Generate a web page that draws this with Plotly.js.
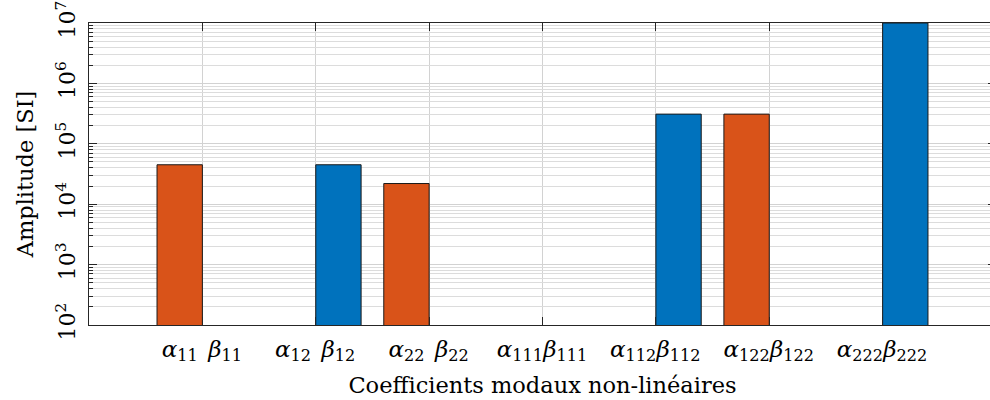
<!DOCTYPE html>
<html>
<head>
<meta charset="utf-8">
<script src="https://cdn.plot.ly/plotly-3.0.1.min.js"></script>
<style>
html,body{margin:0;padding:0;overflow:hidden;background:#fff;}
#chart{width:1000px;height:400px;}
</style>
</head>
<body>
<div id="chart"></div>
<script>
// Data
const groups = [1, 2, 3, 4, 5, 6, 7];
const indices = ['11', '12', '22', '111', '112', '122', '222'];
const alphaValues = [4.5e4, 0, 2.2e4, 0, 0, 3.1e5, 0];
const betaValues  = [0, 4.5e4, 0, 0, 3.1e5, 0, 1e7];
const yExponents = [2, 3, 4, 5, 6, 7];

const orange = '#D95319';
const blue = '#0072BD';
const axisColor = '#262626';
const serif = 'DejaVu Serif, serif';

// Tick labels: alpha left of each group, beta right
const tickVals = [];
const tickText = [];
groups.forEach((g, i) => {
  tickVals.push(g - 0.2); tickText.push('<i>α</i><sub>' + indices[i] + '</sub>');
  tickVals.push(g + 0.2); tickText.push('<i>β</i><sub>' + indices[i] + '</sub>');
});
const yTickVals = yExponents.map(e => Math.pow(10, e));
const yTickText = yExponents.map(e => '10<sup>' + e + '</sup>');

const traces = [
  {type: 'bar', x: groups, y: alphaValues, name: 'alpha',
   marker: {color: orange, line: {color: '#1a1a1a', width: 1}}},
  {type: 'bar', x: groups, y: betaValues, name: 'beta',
   marker: {color: blue, line: {color: '#1a1a1a', width: 1}}}
];

const layout = {
  width: 1000, height: 400,
  margin: {l: 89, r: 4, t: 22.5, b: 75},
  paper_bgcolor: '#fff', plot_bgcolor: '#fff',
  showlegend: false,
  barmode: 'group', bargap: 0.2, bargroupgap: 0,
  font: {family: serif, color: '#000', size: 22},
  xaxis: {
    range: [0, 8], autorange: false,
    tickmode: 'array', tickvals: tickVals, ticktext: tickText,
    tickangle: 0,
    ticks: '', showgrid: false, zeroline: false,
    showline: true, linecolor: axisColor, linewidth: 1, mirror: 'allticks',
    tickfont: {family: serif, size: 23, color: '#000'},
    ticklabelstandoff: 3,
    minor: {tickmode: 'array', tickvals: groups, ticks: 'inside', ticklen: 8,
            tickcolor: axisColor, showgrid: true, gridcolor: '#d2d2d2', gridwidth: 1},
    title: {text: 'Coefficients modaux non-linéaires', font: {family: serif, size: 22.5, color: '#000'}, standoff: 12}
  },
  yaxis: {
    type: 'log', range: [2, 7], autorange: false,
    tickmode: 'array', tickvals: yTickVals, ticktext: yTickText,
    tickangle: -90,
    ticks: 'inside', ticklen: 8, tickcolor: axisColor,
    showgrid: true, gridcolor: '#d2d2d2', gridwidth: 1, zeroline: false,
    showline: true, linecolor: axisColor, linewidth: 1, mirror: 'allticks',
    tickfont: {family: serif, size: 22, color: '#000'},
    ticklabelstandoff: 4,
    minor: {dtick: 'D1', ticks: 'inside', ticklen: 4, tickcolor: axisColor,
            showgrid: true, gridcolor: '#dcdcdc', gridwidth: 1},
    title: {text: 'Amplitude [SI]', font: {family: serif, size: 22.5, color: '#000'}, standoff: 12}
  }
};

Plotly.newPlot('chart', traces, layout, {displayModeBar: false, staticPlot: true});
</script>
</body>
</html>
